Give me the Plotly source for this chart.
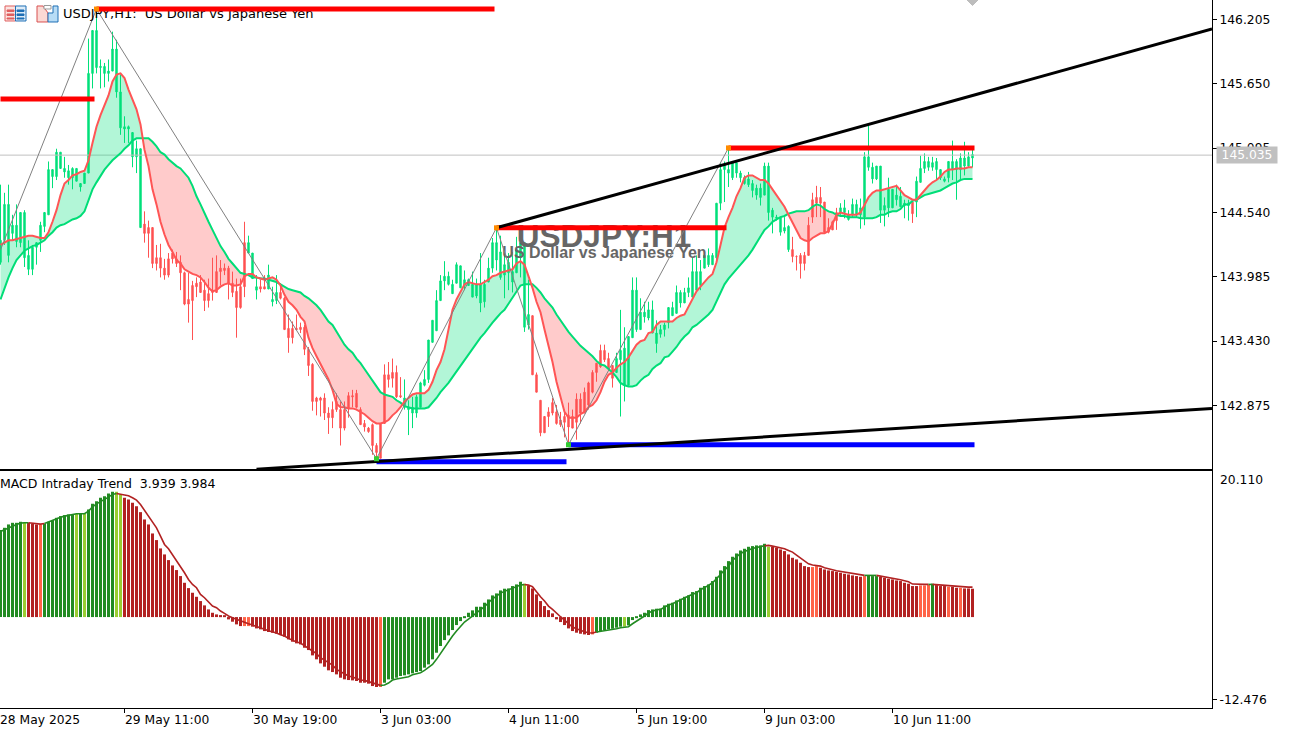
import plotly.graph_objects as go

high = [
144.78,144.71,144.78,144.52,144.61,144.54,144.56,144.30,144.26,144.28,
144.46,144.54,144.98,144.91,145.09,145.06,145.02,144.95,144.93,144.92,
144.79,144.88,146.04,146.11,146.29,145.86,145.83,145.86,146.10,146.03,
145.73,145.37,145.29,145.23,145.16,145.09,144.55,144.47,144.41,144.26,
144.27,144.14,144.19,144.22,144.20,144.17,144.03,144.02,143.95,143.98,
144.00,143.96,143.97,144.15,144.17,144.13,144.10,144.08,144.03,143.97,
143.97,144.46,144.34,144.19,144.00,143.96,144.00,144.09,143.90,144.00,
143.93,143.81,143.66,143.60,143.66,143.59,143.57,143.38,143.24,142.95,
142.95,142.98,142.86,142.91,142.98,142.91,142.91,142.99,143.01,143.01,
142.86,142.75,142.69,142.72,142.55,142.72,143.23,143.25,143.28,143.22,
143.12,143.10,142.92,142.95,142.97,143.08,143.18,143.44,143.61,143.87,
144.00,144.12,144.03,143.96,144.11,144.08,144.04,143.97,144.03,143.97,
144.19,143.96,144.15,144.32,144.40,144.34,144.22,144.19,144.20,144.33,
144.33,144.28,143.96,143.65,143.16,142.92,142.78,142.86,142.94,142.88,
142.82,142.84,142.90,142.84,142.98,142.98,143.03,143.08,143.18,143.24,
143.40,143.40,143.33,143.22,143.33,143.70,143.55,143.47,143.98,143.98,
143.80,143.77,143.77,143.78,143.61,143.57,143.59,143.72,143.77,143.91,
143.87,143.89,143.98,144.15,144.17,144.13,144.20,144.23,144.19,144.62,
144.97,144.98,145.09,144.98,144.98,144.90,144.86,144.89,144.82,144.78,
144.79,144.97,144.97,144.58,144.52,144.50,144.50,144.43,144.33,144.17,
144.19,144.20,144.50,144.71,144.77,144.76,144.63,144.49,144.47,144.58,
144.62,144.65,144.56,144.66,144.65,144.66,145.06,145.29,144.97,144.94,
144.94,144.67,144.84,144.74,144.78,144.76,144.65,144.65,144.65,144.85,
145.03,145.05,145.02,145.02,145.01,144.91,144.85,144.98,145.16,145.00,
145.05,145.15,145.06,145.08]

body_top = [
144.30,144.61,144.61,144.43,144.43,144.54,144.54,144.17,144.24,144.28,
144.43,144.54,144.91,144.91,145.06,145.06,144.92,144.90,144.92,144.92,
144.79,144.88,145.74,146.11,146.11,145.80,145.80,145.76,145.95,145.95,
145.58,145.28,145.28,145.23,145.09,145.09,144.44,144.41,144.41,144.15,
144.15,144.06,144.14,144.19,144.14,144.11,144.02,143.79,143.91,143.93,
143.94,143.87,143.84,143.87,144.03,144.06,144.06,144.06,143.93,143.86,
143.90,144.28,144.28,144.19,143.90,143.90,143.90,144.00,143.79,143.85,
143.85,143.80,143.54,143.54,143.54,143.55,143.55,143.36,143.23,142.94,
142.94,142.94,142.81,142.84,142.91,142.84,142.84,142.96,142.96,142.98,
142.84,142.72,142.68,142.71,142.53,142.72,143.14,143.14,143.16,143.16,
142.96,142.94,142.86,142.86,142.95,143.07,143.10,143.44,143.61,143.78,
143.95,143.99,143.99,143.92,144.09,144.08,143.96,143.96,143.92,143.92,
143.92,143.92,144.06,144.28,144.28,144.20,144.09,144.11,144.03,144.22,
144.28,144.28,143.66,143.65,143.14,142.92,142.78,142.82,142.90,142.82,
142.75,142.78,142.79,142.78,142.93,142.93,142.99,143.07,143.16,143.24,
143.35,143.35,143.28,143.22,143.28,143.35,143.37,143.47,143.87,143.87,
143.68,143.68,143.70,143.70,143.50,143.53,143.57,143.72,143.72,143.85,
143.85,143.85,143.89,144.03,144.03,144.03,144.17,144.17,144.17,144.62,
144.91,144.95,144.91,144.97,144.97,144.88,144.84,144.83,144.79,144.75,
144.75,144.94,144.94,144.56,144.50,144.50,144.41,144.42,144.22,144.16,
144.17,144.17,144.43,144.65,144.67,144.67,144.63,144.41,144.46,144.54,
144.58,144.58,144.52,144.61,144.61,144.58,145.02,145.02,144.93,144.94,
144.94,144.60,144.74,144.74,144.69,144.68,144.62,144.62,144.63,144.81,
144.92,144.98,144.98,144.97,144.98,144.91,144.83,144.98,144.98,144.98,
145.01,145.01,145.02,145.04]

body_bottom = [
144.11,144.30,144.17,144.36,144.29,144.28,144.15,144.05,144.05,144.24,
144.30,144.42,144.52,144.85,144.85,144.92,144.89,144.84,144.84,144.81,
144.76,144.79,144.88,145.74,145.79,145.79,145.74,145.74,145.76,145.58,
145.27,145.26,145.26,145.02,145.02,144.41,144.36,144.36,144.10,144.10,
144.06,144.00,144.00,144.14,144.10,144.02,143.75,143.75,143.78,143.90,
143.85,143.78,143.78,143.85,143.85,144.03,144.04,143.93,143.85,143.72,
143.72,143.90,144.19,143.97,143.87,143.88,143.88,143.88,143.77,143.78,
143.80,143.53,143.46,143.46,143.53,143.53,143.36,143.22,142.91,142.91,
142.92,142.81,142.77,142.77,142.84,142.68,142.68,142.85,142.95,142.86,
142.71,142.69,142.65,142.53,142.47,142.42,142.72,143.10,143.11,142.95,
142.95,142.86,142.84,142.81,142.81,142.86,143.05,143.10,143.42,143.52,
143.78,143.95,143.92,143.84,143.93,143.89,143.91,143.91,143.81,143.82,
143.76,143.77,143.94,144.06,144.13,143.98,144.00,144.02,143.94,144.02,
144.15,143.55,143.57,143.14,142.99,142.64,142.64,142.78,142.81,142.72,
142.71,142.73,142.69,142.68,142.73,142.81,142.81,142.88,142.99,143.16,
143.21,143.27,143.20,143.11,143.16,143.27,143.05,143.05,143.46,143.53,
143.53,143.64,143.63,143.50,143.41,143.49,143.53,143.59,143.65,143.67,
143.76,143.76,143.85,143.81,143.87,143.91,144.06,144.09,144.09,144.15,
144.62,144.91,144.88,144.84,144.88,144.84,144.79,144.78,144.73,144.69,
144.67,144.69,144.54,144.50,144.49,144.37,144.38,144.22,144.16,144.16,
144.10,144.10,144.17,144.50,144.62,144.62,144.37,144.37,144.39,144.47,
144.54,144.54,144.48,144.52,144.52,144.52,144.50,144.93,144.83,144.83,
144.56,144.56,144.58,144.58,144.65,144.59,144.60,144.60,144.53,144.63,
144.80,144.92,144.93,144.93,144.91,144.84,144.81,144.84,144.91,144.91,
144.91,144.94,144.94,145.01]

low = [
144.09,144.26,144.11,144.30,144.24,144.24,144.07,144.00,144.00,144.09,
144.20,144.37,144.52,144.75,144.82,144.92,144.84,144.78,144.74,144.81,
144.72,144.79,144.88,145.61,145.74,145.61,145.62,145.67,145.76,145.53,
145.21,145.14,145.14,144.93,144.88,144.41,144.28,144.15,144.06,144.04,
143.98,143.96,143.98,144.10,144.07,143.87,143.74,143.59,143.44,143.81,
143.85,143.69,143.72,143.78,143.85,143.91,144.00,143.79,143.81,143.46,
143.71,143.81,144.19,143.97,143.79,143.85,143.88,143.88,143.73,143.75,
143.79,143.53,143.33,143.41,143.53,143.50,143.31,143.13,142.83,142.79,
142.78,142.75,142.63,142.68,142.82,142.53,142.66,142.77,142.86,142.85,
142.71,142.65,142.64,142.45,142.41,142.42,142.72,143.03,143.03,142.94,
142.94,142.84,142.62,142.68,142.77,142.86,143.04,143.07,143.42,143.52,
143.78,143.87,143.91,143.84,143.93,143.89,143.87,143.91,143.81,143.80,
143.68,143.72,143.94,144.02,144.04,143.96,143.80,143.87,143.85,144.02,
143.98,143.51,143.53,143.14,142.99,142.61,142.64,142.69,142.79,142.71,
142.69,142.60,142.53,142.68,142.58,142.72,142.81,142.84,142.98,143.08,
143.20,143.25,143.18,143.03,143.16,142.78,142.91,143.05,143.46,143.51,
143.53,143.59,143.61,143.50,143.33,143.46,143.47,143.54,143.65,143.67,
143.72,143.76,143.81,143.81,143.87,143.87,144.06,144.07,144.09,144.13,
144.56,144.63,144.76,144.82,144.84,144.80,144.78,144.76,144.67,144.65,
144.60,144.69,144.47,144.36,144.47,144.34,144.36,144.20,144.11,144.04,
143.97,144.04,144.17,144.45,144.50,144.50,144.36,144.36,144.39,144.39,
144.52,144.49,144.47,144.50,144.50,144.40,144.43,144.90,144.79,144.82,
144.45,144.42,144.50,144.58,144.60,144.59,144.49,144.47,144.45,144.50,
144.80,144.88,144.90,144.90,144.82,144.82,144.80,144.80,144.82,144.65,
144.82,144.86,144.93,144.93]

# run lengths of the candle colour: (colour, number of bars)
candle_runs = [("up",36),("down",26),("up",3),("down",2),("up",3),("down",31),("up",32),
               ("down",21),("up",44),("down",12),("up",18),("down",1),("up",15)]

fast_ma = [
144.26,144.28,144.30,144.30,144.31,144.32,144.33,144.34,144.34,144.33,
144.32,144.32,144.37,144.46,144.56,144.69,144.79,144.82,144.86,144.87,
144.89,144.90,144.99,145.14,145.28,145.38,145.47,145.55,145.67,145.73,
145.74,145.70,145.60,145.51,145.43,145.30,145.08,144.94,144.74,144.61,
144.46,144.35,144.26,144.20,144.13,144.10,144.05,144.03,144.01,144.00,
143.98,143.94,143.89,143.86,143.87,143.90,143.92,143.93,143.91,143.91,
143.92,143.99,144.01,144.01,143.98,143.97,143.96,143.97,143.98,143.96,
143.91,143.83,143.77,143.74,143.70,143.64,143.60,143.46,143.37,143.30,
143.23,143.16,143.10,143.01,142.89,142.86,142.86,142.85,142.85,142.84,
142.82,142.80,142.77,142.74,142.72,142.72,142.73,142.75,142.79,142.82,
142.86,142.91,142.94,142.97,142.98,142.98,142.98,143.01,143.08,143.18,
143.25,143.36,143.53,143.70,143.79,143.86,143.92,143.94,143.93,143.92,
143.92,143.94,143.96,143.99,144.00,144.02,144.03,144.04,144.05,144.10,
144.12,144.09,143.99,143.89,143.77,143.68,143.53,143.39,143.25,143.08,
142.94,142.82,142.77,142.77,142.77,142.80,142.82,142.86,142.88,142.92,
142.99,143.08,143.14,143.16,143.20,143.23,143.25,143.29,143.34,143.40,
143.43,143.44,143.50,143.51,143.57,143.60,143.60,143.60,143.60,143.63,
143.65,143.66,143.73,143.80,143.86,143.90,143.94,143.98,144.01,144.11,
144.26,144.41,144.50,144.58,144.68,144.75,144.84,144.86,144.86,144.84,
144.82,144.82,144.79,144.74,144.69,144.65,144.59,144.52,144.45,144.38,
144.32,144.30,144.29,144.32,144.34,144.36,144.36,144.38,144.44,144.52,
144.54,144.53,144.52,144.52,144.52,144.54,144.61,144.67,144.71,144.73,
144.73,144.74,144.75,144.76,144.77,144.73,144.69,144.67,144.65,144.65,
144.69,144.73,144.77,144.80,144.82,144.85,144.89,144.91,144.91,144.92,
144.92,144.92,144.93,144.93]

slow_ma = [
143.79,143.89,143.98,144.06,144.13,144.17,144.21,144.23,144.25,144.26,
144.28,144.30,144.34,144.37,144.41,144.43,144.44,144.46,144.48,144.49,
144.51,144.55,144.65,144.74,144.80,144.86,144.91,144.95,144.99,145.02,
145.05,145.09,145.12,145.16,145.18,145.18,145.18,145.18,145.15,145.11,
145.06,145.04,145.00,144.97,144.94,144.92,144.88,144.84,144.77,144.68,
144.61,144.53,144.46,144.39,144.32,144.25,144.20,144.14,144.10,144.06,
144.02,144.01,144.00,143.98,143.98,143.97,143.97,143.96,143.95,143.94,
143.92,143.90,143.88,143.87,143.86,143.85,143.82,143.80,143.77,143.74,
143.70,143.65,143.60,143.57,143.51,143.46,143.40,143.36,143.33,143.28,
143.24,143.19,143.14,143.09,143.03,142.99,142.97,142.96,142.95,142.92,
142.90,142.87,142.86,142.85,142.85,142.85,142.85,142.86,142.90,142.94,
142.99,143.03,143.07,143.12,143.17,143.22,143.27,143.32,143.36,143.41,
143.46,143.50,143.55,143.59,143.63,143.67,143.70,143.75,143.80,143.86,
143.91,143.92,143.92,143.92,143.89,143.85,143.80,143.76,143.72,143.66,
143.61,143.55,143.51,143.47,143.43,143.39,143.36,143.33,143.30,143.26,
143.23,143.22,143.19,143.16,143.12,143.07,143.05,143.04,143.04,143.05,
143.09,143.12,143.14,143.19,143.22,143.24,143.29,143.30,143.34,143.38,
143.43,143.47,143.50,143.55,143.57,143.60,143.63,143.66,143.70,143.77,
143.85,143.92,143.97,144.01,144.05,144.09,144.13,144.17,144.22,144.28,
144.34,144.39,144.42,144.46,144.48,144.50,144.51,144.53,144.54,144.55,
144.55,144.55,144.56,144.59,144.61,144.60,144.57,144.55,144.54,144.52,
144.51,144.51,144.50,144.50,144.50,144.49,144.49,144.49,144.49,144.50,
144.52,144.52,144.54,144.55,144.55,144.57,144.61,144.61,144.64,144.65,
144.67,144.69,144.70,144.71,144.72,144.73,144.75,144.77,144.79,144.80,
144.82,144.83,144.83,144.83]

zigzag_bars = [0, 24, 94, 124, 142, 182]
zigzag_prices = [144.218, 146.295, 142.416, 144.408, 142.537, 145.097]
swing_high_bars = [24, 124, 182]
swing_high_prices = [146.295, 144.408, 145.097]
swing_low_bars = [94, 142]
swing_low_prices = [142.416, 142.537]

resistance_levels = [(0, 23.5, 145.52), (24, 123.5, 146.295), (124, 181.5, 144.408), (182, 243.5, 145.097)]
support_levels = [(94, 141.5, 142.39), (142, 243.5, 142.537)]
trend_bars = [[124, 302.875], [64, 302.875]]
trend_prices = [[144.408, 146.123], [142.326, 142.85]]
last_price = 145.035

price_ticks = [146.205, 145.650, 145.095, 144.540, 143.985, 143.430, 142.875]
macd_top_label = "20.110"
macd_bottom_label = "-12.476"
macd_bottom_tick = -12.07
time_tick_bars = [31, 63, 95, 127, 159, 191, 223]
time_labels = ["29 May 11:00", "30 May 19:00", "3 Jun 03:00", "4 Jun 11:00", "5 Jun 19:00", "9 Jun 03:00", "10 Jun 11:00"]

macd_hist = [
12.73,13.07,13.56,13.80,13.80,13.95,13.80,13.80,13.66,13.56,
13.56,13.66,13.95,14.19,14.53,14.78,14.92,15.02,15.02,15.12,
15.12,15.12,15.75,16.58,16.97,17.46,17.70,18.09,18.34,18.34,
17.95,17.46,17.22,16.73,16.24,15.36,14.29,13.56,12.24,11.27,
10.05,9.17,8.34,7.56,6.88,6.00,5.02,4.24,3.56,2.97,
2.34,1.71,1.12,0.63,0.39,0.29,0.15,-0.34,-0.68,-1.07,
-1.32,-1.32,-1.32,-1.41,-1.66,-1.80,-2.05,-2.19,-2.29,-2.44,
-2.63,-2.88,-3.27,-3.61,-3.85,-4.00,-4.49,-4.83,-5.61,-6.19,
-6.78,-7.27,-7.80,-8.05,-8.39,-8.88,-9.12,-9.22,-9.27,-9.36,
-9.61,-9.61,-9.75,-10.10,-10.24,-10.24,-9.61,-9.12,-9.12,-8.88,
-8.63,-8.53,-8.39,-8.24,-8.05,-7.90,-7.41,-6.93,-6.19,-5.22,
-4.24,-3.37,-2.68,-1.90,-1.17,-0.59,-0.05,0.63,0.98,1.51,
1.51,2.10,2.58,3.17,3.46,3.90,4.15,4.19,4.54,4.78,
5.17,4.88,4.63,4.19,3.32,2.34,1.61,1.02,0.54,-0.34,
-0.73,-1.17,-1.66,-2.05,-2.29,-2.44,-2.54,-2.63,-2.54,-2.29,
-2.05,-1.90,-1.80,-1.71,-1.56,-1.41,-1.41,-1.22,-0.44,-0.10,
0.39,0.63,1.02,1.12,1.22,1.22,1.71,1.95,2.10,2.44,
2.68,2.97,3.17,3.66,3.80,4.29,4.54,4.78,5.27,5.90,
6.83,7.46,8.19,8.83,9.31,9.75,10.00,10.29,10.39,10.49,
10.49,10.73,10.29,10.29,10.14,9.90,9.66,9.17,8.68,8.44,
7.95,7.46,7.32,7.32,7.46,7.22,6.97,6.83,6.73,6.63,
6.49,6.34,6.24,6.10,6.00,5.90,6.00,6.10,6.00,6.00,
5.90,5.75,5.61,5.51,5.36,5.27,5.02,4.88,4.54,4.54,
4.63,4.63,4.73,4.88,4.68,4.54,4.54,4.44,4.44,4.29,
4.29,4.19,4.19,4.15]

macd_signal = [
12.53,12.83,13.07,13.31,13.56,13.75,13.80,13.80,13.70,13.66,
13.61,13.70,13.95,14.19,14.39,14.63,14.78,14.92,15.02,15.12,
15.12,15.12,15.51,16.14,16.58,16.87,17.22,17.56,17.95,18.09,
18.00,17.95,17.75,17.46,17.12,16.48,15.66,14.78,13.90,13.07,
11.85,10.63,10.00,9.17,8.19,7.46,6.49,5.51,4.78,4.29,
3.32,2.83,2.19,1.61,1.37,0.88,0.54,0.15,-0.10,-0.34,
-0.59,-0.73,-0.98,-1.17,-1.41,-1.61,-1.80,-2.00,-2.15,-2.34,
-2.58,-2.78,-3.12,-3.41,-3.66,-3.80,-4.24,-4.58,-4.97,-5.36,
-5.95,-6.34,-6.73,-7.02,-7.66,-8.00,-8.39,-8.63,-8.78,-8.97,
-9.22,-9.27,-9.46,-9.71,-9.90,-10.00,-9.95,-9.66,-9.22,-9.07,
-8.92,-8.83,-8.73,-8.44,-8.29,-8.14,-7.80,-7.41,-6.93,-6.19,
-5.32,-4.49,-3.51,-2.78,-2.05,-1.32,-0.73,-0.29,0.15,0.63,
1.12,1.51,2.10,2.68,3.07,3.51,3.76,4.00,4.24,4.49,
4.68,4.78,4.68,4.44,3.66,2.97,2.34,1.61,1.12,0.54,
0.05,-0.44,-0.98,-1.46,-1.71,-1.95,-2.15,-2.29,-2.34,-2.19,
-2.10,-2.00,-1.95,-1.80,-1.71,-1.56,-1.46,-1.41,-0.98,-0.63,
-0.24,0.15,0.63,0.88,1.07,1.12,1.46,1.76,1.95,2.19,
2.44,2.78,3.07,3.37,3.56,4.00,4.29,4.63,5.02,5.71,
6.24,6.88,7.46,8.29,8.83,9.31,9.61,9.85,10.05,10.19,
10.29,10.44,10.49,10.39,10.29,10.14,10.00,9.75,9.51,9.07,
8.68,8.29,7.80,7.61,7.56,7.46,7.22,7.02,6.93,6.78,
6.68,6.54,6.39,6.29,6.19,6.10,6.10,6.10,6.10,6.10,
6.00,5.95,5.80,5.71,5.61,5.46,5.32,5.17,4.83,4.78,
4.78,4.78,4.78,4.78,4.73,4.68,4.63,4.58,4.54,4.44,
4.39,4.39,4.39,4.39]

# histogram colour runs: (state, bars)
hist_runs = [("g",6),("l",1),("r",3),("c",1),("g",8),("l",1),("g",1),("l",1),("g",7),("l",2),
             ("r",30),("c",2),("r",32),("c",1),("g",35),("l",1),("r",16),("c",1),("g",7),("l",1),
             ("g",35),("l",1),("r",10),("c",2),("r",11),("c",1),("g",3),("r",10),("c",3),("g",1),
             ("r",3),("c",1),("r",2),("c",1),("r",3)]
# signal colour runs, first and last bar of each rising/falling stretch
signal_runs = [(0,7,"g"),(7,11,"r"),(11,29,"g"),(29,95,"r"),(95,131,"g"),(131,149,"r"),
               (149,191,"g"),(191,216,"r"),(216,219,"g"),(219,232,"r"),(232,233,"g"),(233,243,"r")]

for nm, arr in dict(high=high, body_top=body_top, body_bottom=body_bottom, low=low,
                    fast_ma=fast_ma, slow_ma=slow_ma, macd_hist=macd_hist, macd_signal=macd_signal).items():
    assert len(arr) == 244, (nm, len(arr))
assert sum(n for _, n in candle_runs) == 244, sum(n for _, n in candle_runs)
assert sum(n for _, n in hist_runs) == 244, sum(n for _, n in hist_runs)

CANDLE_UP, CANDLE_DOWN = "#00E07A", "#FF5252"
LINE_FAST, LINE_SLOW = "#FF5555", "#00DD77"
FILL_UP, FILL_DOWN = "rgba(0,224,122,0.30)", "rgba(255,82,82,0.30)"
HIST = {"g": "#228B22", "l": "#9ACD32", "r": "#B22222", "c": "#FF6347"}
FONT = "DejaVu Sans"
W, H, PLOT_W, PLOT_H = 1291, 730, 1212, 708.5

bars = list(range(244))
candle_state = [s for s, n in candle_runs for _ in range(n)]
hist_colors = [HIST[s] for s, n in hist_runs for _ in range(n)]

fig = go.Figure()

fig.add_trace(go.Scatter(x=[-0.125, 302.875], y=[last_price, last_price], mode="lines",
                         line=dict(color="#C0C0C0", width=1), hoverinfo="skip"))
fig.add_trace(go.Scatter(x=[150.9], y=[144.31], mode="text", text=["USDJPY:H1"],
                         textfont=dict(family="Liberation Sans", size=31.5, color="#666666", weight="bold")))
fig.add_trace(go.Scatter(x=[151], y=[144.18], mode="text", text=["US Dollar vs Japanese Yen"],
                         textfont=dict(family="Liberation Sans", size=16, color="#666666", weight="bold")))

# shaded bands between the two averages
start = 0
for k in range(1, 245):
    if k == 244 or (fast_ma[k] >= slow_ma[k]) != (fast_ma[start] >= slow_ma[start]):
        end = min(k, 243)
        xs = bars[start:end + 1]
        ys = fast_ma[start:end + 1] + slow_ma[start:end + 1][::-1]
        up = fast_ma[start] >= slow_ma[start]
        fig.add_trace(go.Scatter(x=xs + xs[::-1], y=ys, mode="lines", fill="toself",
                                 fillcolor=FILL_UP if up else FILL_DOWN, line=dict(width=0), hoverinfo="skip"))
        start = k

for state, col in (("up", CANDLE_UP), ("down", CANDLE_DOWN)):
    idx = [i for i in bars if candle_state[i] == state]
    top = [body_top[i] for i in idx]
    bot = [body_bottom[i] for i in idx]
    op, cl = (bot, top) if state == "up" else (top, bot)
    fig.add_trace(go.Candlestick(x=idx, open=op, close=cl,
                                 high=[high[i] for i in idx], low=[low[i] for i in idx],
                                 increasing=dict(line=dict(color=col, width=1), fillcolor=col),
                                 decreasing=dict(line=dict(color=col, width=1), fillcolor=col),
                                 whiskerwidth=0))

fig.add_trace(go.Scatter(x=bars, y=slow_ma, mode="lines", line=dict(color=LINE_SLOW, width=2)))
fig.add_trace(go.Scatter(x=bars, y=fast_ma, mode="lines", line=dict(color=LINE_FAST, width=2)))
fig.add_trace(go.Scatter(x=zigzag_bars, y=zigzag_prices, mode="lines", line=dict(color="#808080", width=1)))

fig.add_trace(go.Scatter(x=[15.6], y=[146.25], mode="text", text=["USDJPY,H1:  US Dollar vs Japanese Yen"],
                         textposition="middle right", textfont=dict(family=FONT, size=13, color="#000000")))

for x0, x1, lvl in resistance_levels:
    fig.add_trace(go.Scatter(x=[x0, x1], y=[lvl, lvl], mode="lines", line=dict(color="#FF0000", width=5)))
for x0, x1, lvl in support_levels:
    fig.add_trace(go.Scatter(x=[x0, x1], y=[lvl, lvl], mode="lines", line=dict(color="#0000FF", width=5)))
for xs, ys in zip(trend_bars, trend_prices):
    fig.add_trace(go.Scatter(x=xs, y=ys, mode="lines", line=dict(color="#000000", width=3)))
fig.add_trace(go.Scatter(x=swing_high_bars, y=swing_high_prices, mode="markers",
                         marker=dict(symbol="square", size=5, color="#FF8C00")))
fig.add_trace(go.Scatter(x=swing_low_bars, y=swing_low_prices, mode="markers",
                         marker=dict(symbol="square", size=5, color="#32CD32")))

# MACD pane
fig.add_trace(go.Bar(x=bars, y=macd_hist, width=0.75, marker=dict(color=hist_colors, line=dict(width=0)),
                     xaxis="x2", yaxis="y2"))
for a, b, c in signal_runs:
    fig.add_trace(go.Scatter(x=bars[a:b + 1], y=macd_signal[a:b + 1], mode="lines",
                             line=dict(color=HIST[c], width=1.6), xaxis="x2", yaxis="y2"))

def px(x):
    return x / PLOT_W
def py(y):
    return 1 - y / PLOT_H

def box(x0, y0, x1, y1, line, fill):
    return dict(type="rect", xref="paper", yref="paper", x0=px(x0), x1=px(x1), y0=py(y0), y1=py(y1),
                line=dict(color=line, width=1), fillcolor=fill)

def poly(points, line, fill):
    path = "M " + " L ".join(f"{px(a)},{py(b)}" for a, b in points) + " Z"
    return dict(type="path", xref="paper", yref="paper", path=path,
                line=dict(color=line, width=1), fillcolor=fill)

shapes = [
    box(5, 6, 15.5, 21, "#E06060", "#FBE3E0"),
    box(15.5, 6, 26, 21, "#1F6FB5", "#DCEBF8"),
    box(7, 10, 14, 11.5, "#E06060", "#E06060"),
    box(7, 14, 14, 15.5, "#E06060", "#E06060"),
    box(7, 18, 14, 19, "#E06060", "#E06060"),
    box(17, 10, 24, 11.5, "#1F6FB5", "#1F6FB5"),
    box(17, 14, 24, 15.5, "#1F6FB5", "#1F6FB5"),
    box(17, 18, 24, 19, "#1F6FB5", "#1F6FB5"),
    poly([(37, 6), (43, 6), (48, 13), (48, 22), (37, 22)], "#D85050", "#FBD9D4"),
    poly([(48, 13), (53, 13), (53, 6), (58, 6), (58, 22), (48, 22)], "#1F6FB5", "#B7DCF6"),
    box(44, 5.5, 51, 9, "#9A9A9A", "#FFFFFF"),
    poly([(967, 0), (978, 0), (972.5, 5.5)], "#BDBDBD", "#BDBDBD"),
]

annotations = [
    dict(xref="paper", yref="paper", x=0, y=py(484), xanchor="left", yanchor="middle", showarrow=False,
         text="MACD Intraday Trend  3.939 3.984", font=dict(family=FONT, size=12.5, color="#000000"), borderpad=0, xshift=-1),
    dict(xref="paper", yref="y", x=px(1216), y=last_price, xanchor="left", yanchor="middle", showarrow=False,
         text="145.035", width=60, height=16, bgcolor="#C0C0C0", borderpad=0,
         font=dict(family=FONT, size=12.3, color="#FFFFFF")),
    dict(xref="paper", yref="paper", x=px(1219), y=py(480), xanchor="left", yanchor="middle", showarrow=False,
         text=macd_top_label, borderpad=0, font=dict(family=FONT, size=12.3, color="#000000")),
    dict(xref="x2", yref="paper", x=-0.125, y=py(720.5), xanchor="left", yanchor="middle", showarrow=False,
         text="28 May 2025", font=dict(family=FONT, size=12.3, color="#000000"), borderpad=0, xshift=-1),
]
for b, lab in zip(time_tick_bars, time_labels):
    annotations.append(dict(xref="x2", yref="paper", x=b, y=py(720.5), xanchor="left", yanchor="middle",
                            showarrow=False, text=lab, borderpad=0, xshift=-1,
                            font=dict(family=FONT, size=12.3, color="#000000")))

TOP_BOTTOM_PX, LOW_TOP_PX = 469.5, 471.5
fig.update_layout(
    width=W, height=H, showlegend=False, plot_bgcolor="#FFFFFF", paper_bgcolor="#FFFFFF",
    margin=dict(l=0, r=W - PLOT_W, t=0, b=H - PLOT_H, pad=0),
    font=dict(family=FONT, size=12, color="#000000"),
    boxgap=0.5, barmode="overlay", hovermode=False, shapes=shapes, annotations=annotations,
    xaxis=dict(domain=[0, 1], range=[-0.125, 302.875], anchor="y", showgrid=False, zeroline=False,
               showticklabels=False, ticks="", showline=True, linecolor="#000000", linewidth=1,
               rangeslider=dict(visible=False)),
    yaxis=dict(domain=[1 - TOP_BOTTOM_PX / PLOT_H, 1], range=[146.373 - 0.00862 * TOP_BOTTOM_PX, 146.373],
               anchor="x", side="right", showgrid=False, zeroline=False, tickmode="array",
               tickvals=price_ticks, ticktext=[f"{v:.3f}" for v in price_ticks], ticks="outside", ticklen=4,
               tickcolor="#000000", showline=True, linecolor="#000000", linewidth=1, tickfont=dict(family=FONT, size=12.3)),
    xaxis2=dict(domain=[0, 1], range=[-0.125, 302.875], anchor="y2", showgrid=False, zeroline=False,
                tickmode="array", tickvals=time_tick_bars, showticklabels=False, ticks="outside", ticklen=4,
                tickcolor="#000000", showline=True, mirror=True, linecolor="#000000", linewidth=1),
    yaxis2=dict(domain=[0, 1 - LOW_TOP_PX / PLOT_H], range=[-(PLOT_H - 617.5) * 0.1463, (617.5 - LOW_TOP_PX) * 0.1463],
                anchor="x2", side="right", showgrid=False, zeroline=False, tickmode="array",
                tickvals=[macd_bottom_tick], ticktext=[macd_bottom_label], ticks="outside", ticklen=4, tickcolor="#000000",
                showline=True, linecolor="#000000", linewidth=1, tickfont=dict(family=FONT, size=12.3)),
)

fig.write_html("out.html", config={"displayModeBar": False},
               post_script="document.body.style.margin='0';document.documentElement.style.overflow='hidden';")
